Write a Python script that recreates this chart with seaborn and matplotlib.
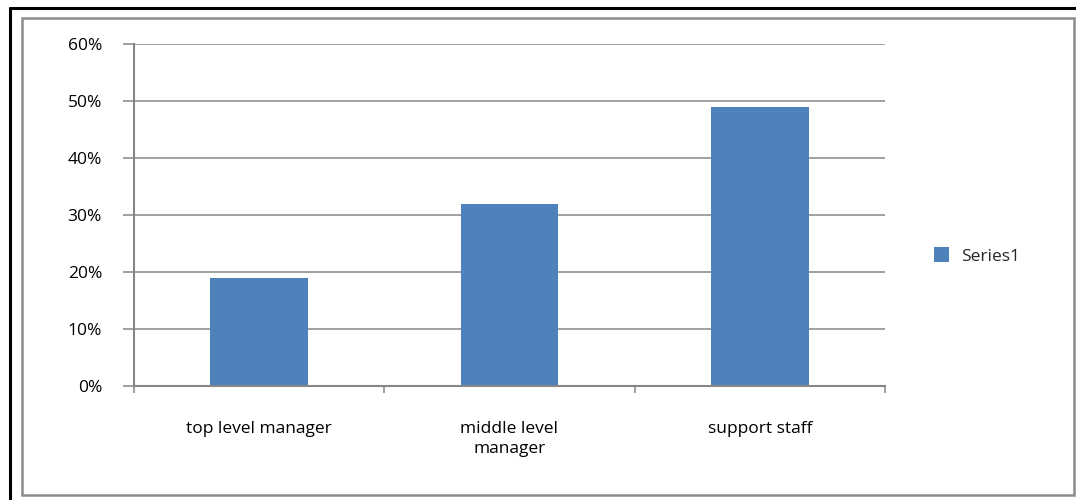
import matplotlib
matplotlib.use("Agg")
import matplotlib.pyplot as plt
from matplotlib.lines import Line2D
from matplotlib.patches import Rectangle
from matplotlib.ticker import FixedLocator, PercentFormatter
import seaborn as sns
import pandas as pd

# Share of respondents per staff category
categories = ["top level manager", "middle level\nmanager", "support staff"]
shares = [19, 32, 49]
series_name = "Series1"
y_ticks = [0, 10, 20, 30, 40, 50, 60]

sns.set_theme(style="white")
plt.rcParams["font.family"] = ["Open Sans", "DejaVu Sans"]

W, H = 1076, 500
fig = plt.figure(figsize=(W / 100, H / 100), dpi=100)
fig.patch.set_facecolor("white")

def fx(px):
    return px / W

def fy(py):
    return 1 - py / H

ax = fig.add_axes([fx(134), fy(386), fx(885) - fx(134), fy(44) - fy(386)])

df = pd.DataFrame({"category": categories, "share": shares, "series": series_name})
sns.barplot(data=df, x="category", y="share", hue="series",
            palette=["#4F81BD"], width=0.39, ax=ax, legend=True,
            saturation=1, edgecolor="#4F81BD", linewidth=0)

grid_c = "#868686"
ax.set_xlim(-0.5, 2.5)
ax.set_ylim(0, 60)
ax.yaxis.set_major_locator(FixedLocator(y_ticks))
ax.yaxis.set_major_formatter(PercentFormatter(decimals=0))
ax.set_axisbelow(True)
ax.grid(axis="y", color=grid_c, linewidth=1.1)
ax.grid(axis="x", visible=False)
for side in ["top", "right"]:
    ax.spines[side].set_visible(False)
for side in ["left", "bottom"]:
    ax.spines[side].set_color(grid_c)
    ax.spines[side].set_linewidth(1.5)

ax.set_xlabel("")
ax.set_ylabel("")
fs = 12.5
ax.tick_params(axis="y", which="major", length=8, width=1.1, color=grid_c,
               pad=15, labelsize=fs, labelcolor="black", left=True)
ax.xaxis.set_minor_locator(FixedLocator([-0.5, 0.5, 1.5, 2.5]))
ax.tick_params(axis="x", which="major", length=0, pad=25, labelsize=fs,
               labelcolor="black")
ax.tick_params(axis="x", which="minor", length=5, width=1.1, color=grid_c,
               bottom=True, direction="out")
for lbl in ax.get_xticklabels():
    lbl.set_verticalalignment("top")
    lbl.set_linespacing(1.35)

leg = ax.legend(loc="center left", bbox_to_anchor=(fx(918), fy(256)),
                bbox_transform=fig.transFigure, frameon=False,
                handlelength=0.9, handleheight=0.9, handletextpad=0.7,
                fontsize=fs)

# chart frame
fig.add_artist(Rectangle((fx(22), fy(495)), fx(1074) - fx(22), fy(18) - fy(495),
                         transform=fig.transFigure, fill=False,
                         edgecolor="#8c8c8c", linewidth=1.8))
fig.add_artist(Line2D([fx(10), fx(10)], [fy(8), 0], transform=fig.transFigure,
                      color="black", linewidth=2.2))
fig.add_artist(Line2D([fx(10), 1], [fy(8), fy(8)], transform=fig.transFigure,
                      color="black", linewidth=2.2))

fig.savefig("out.png", dpi=100, facecolor="white")
